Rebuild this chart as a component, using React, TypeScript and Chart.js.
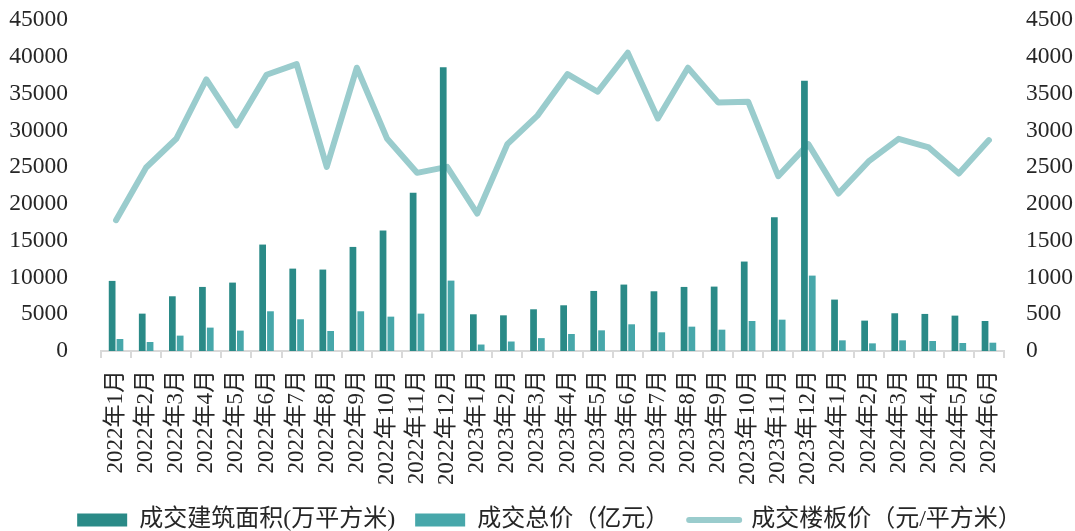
import { useEffect, useRef } from 'react';
import { Chart, registerables } from 'chart.js';

Chart.register(...registerables);

const months = [
  '2022年1月', '2022年2月', '2022年3月', '2022年4月', '2022年5月', '2022年6月',
  '2022年7月', '2022年8月', '2022年9月', '2022年10月', '2022年11月', '2022年12月',
  '2023年1月', '2023年2月', '2023年3月', '2023年4月', '2023年5月', '2023年6月',
  '2023年7月', '2023年8月', '2023年9月', '2023年10月', '2023年11月', '2023年12月',
  '2024年1月', '2024年2月', '2024年3月', '2024年4月', '2024年5月', '2024年6月',
];

// 成交建筑面积（万平方米）— left axis
const areaValues = [
  9530, 5080, 7440, 8710, 9300, 14470, 11200, 11070, 14150, 16380, 21500, 38560,
  4990, 4850, 5670, 6215, 8165, 9030, 8120, 8710, 8755, 12160, 18190, 36740,
  6990, 4130, 5130, 5040, 4810, 4080,
];

// 成交总价（亿元）— left axis
const totalValues = [
  1630, 1220, 2090, 3180, 2770, 5400, 4310, 2720, 5400, 4670, 5080, 9570,
  880, 1290, 1750, 2310, 2810, 3630, 2540, 3310, 2900, 4080, 4260, 10250,
  1450, 1040, 1450, 1360, 1090, 1130,
];

// 成交楼板价（元/平方米）— right axis
const priceValues = [
  1778, 2495, 2885, 3693, 3067, 3756, 3901, 2504, 3851, 2890, 2422, 2504,
  1869, 2812, 3200, 3765, 3525, 4055, 3162, 3851, 3380, 3389, 2377, 2812,
  2141, 2577, 2885, 2767, 2413, 2867,
];

const seriesNames = ['成交建筑面积(万平方米)', '成交总价（亿元）', '成交楼板价（元/平方米）'];

const FONT = "'Liberation Serif', 'Noto Sans CJK SC', serif";
const TEXT = '#262626';
const DARK = '#2A8A87';
const LIGHT = '#47A7AA';
const LINE = '#9ACCCD';
const AXIS = '#D9D9D9';

// nudge the legend slightly right after Chart.js has placed its boxes
const legendShift = {
  id: 'legendShift',
  afterLayout(chart: any) {
    const l = chart.legend;
    if (l) {
      l.left += 12;
      l.right += 12;
    }
  },
};

export default function App() {
  const ref = useRef<HTMLCanvasElement | null>(null);

  useEffect(() => {
    const canvas = ref.current;
    if (!canvas) return;
    const noVertPad = (s: any) => {
      s.paddingTop = 0;
      s.paddingBottom = 0;
    };
    const chart = new Chart(canvas, {
      type: 'bar',
      data: {
        labels: months,
        datasets: [
          {
            type: 'bar',
            label: seriesNames[0],
            data: areaValues,
            backgroundColor: DARK,
            yAxisID: 'y',
            order: 0,
            categoryPercentage: 0.52,
            barPercentage: 0.86,
          },
          {
            type: 'bar',
            label: seriesNames[1],
            data: totalValues,
            backgroundColor: LIGHT,
            yAxisID: 'y',
            order: 0,
            categoryPercentage: 0.52,
            barPercentage: 0.86,
          },
          {
            type: 'line',
            label: seriesNames[2],
            data: priceValues,
            borderColor: LINE,
            backgroundColor: LINE,
            borderWidth: 6,
            pointRadius: 0,
            tension: 0,
            borderCapStyle: 'round',
            borderJoinStyle: 'round',
            yAxisID: 'y1',
            order: 1,
          } as any,
        ],
      },
      plugins: [legendShift],
      options: {
        animation: false,
        responsive: false,
        layout: { padding: { top: 20, left: 0, right: 0, bottom: 0 } },
        plugins: {
          tooltip: { enabled: false },
          legend: {
            position: 'bottom',
            labels: {
              usePointStyle: true,
              pointStyleWidth: 50,
              boxHeight: 13,
              padding: 20,
              color: TEXT,
              font: { family: FONT, size: 24 },
              generateLabels: (c: any) =>
                c.data.datasets.map((ds: any, i: number) => ({
                  text: ds.label,
                  fillStyle: i === 2 ? LINE : ds.backgroundColor,
                  strokeStyle: i === 2 ? LINE : ds.backgroundColor,
                  lineWidth: i === 2 ? 6 : 0,
                  lineCap: 'round',
                  pointStyle: i === 2 ? 'line' : 'rect',
                  hidden: false,
                  datasetIndex: i,
                  fontColor: TEXT,
                })),
            },
          },
        },
        scales: {
          x: {
            offset: true,
            grid: {
              display: true,
              drawOnChartArea: false,
              drawTicks: true,
              tickLength: 7,
              color: AXIS,
              lineWidth: 2,
              offset: true,
            },
            border: { display: true, color: AXIS, width: 2 },
            ticks: {
              autoSkip: false,
              maxRotation: 90,
              minRotation: 90,
              padding: 12,
              color: TEXT,
              font: { family: FONT, size: 23 },
            },
            afterFit: (s: any) => {
              s.height = 137;
            },
          },
          y: {
            position: 'left',
            min: 0,
            max: 45000,
            grid: { display: false },
            border: { display: false },
            ticks: {
              stepSize: 5000,
              padding: 25,
              color: TEXT,
              font: { family: FONT, size: 23.5 },
              callback: (v: any) => String(v),
            },
            afterFit: (s: any) => {
              s.width = 101;
              noVertPad(s);
            },
          },
          y1: {
            position: 'right',
            min: 0,
            max: 4500,
            grid: { display: false },
            border: { display: false },
            ticks: {
              stepSize: 500,
              padding: 14,
              color: TEXT,
              font: { family: FONT, size: 23.5 },
              callback: (v: any) => String(v),
            },
            afterFit: (s: any) => {
              s.width = 71;
              noVertPad(s);
            },
          },
        },
      },
    });
    return () => chart.destroy();
  }, []);

  return (
    <div style={{ position: 'fixed', left: 0, top: 0, width: 1075, height: 542, background: '#fff' }}>
      <canvas ref={ref} width={1075} height={542} style={{ display: 'block' }} />
    </div>
  );
}
